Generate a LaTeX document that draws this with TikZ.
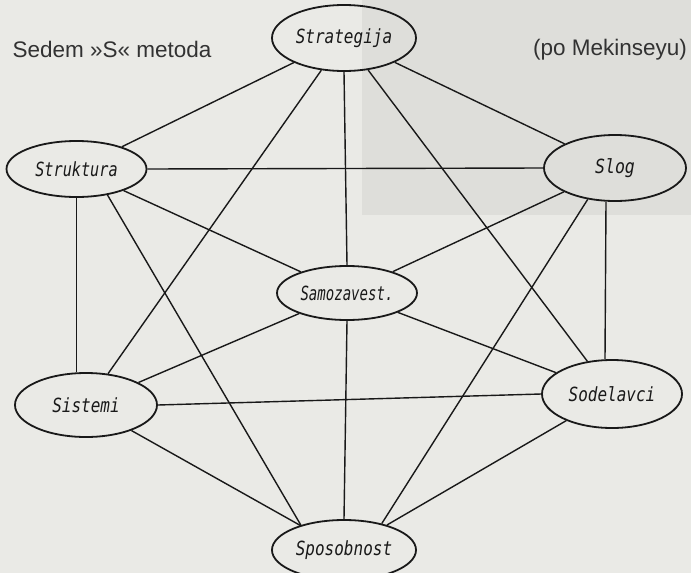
\documentclass[tikz,border=0pt]{standalone}
\usepackage{fontspec}
\setmainfont{Liberation Sans}
\newfontfamily\lblfont{DejaVu Sans Mono}
\usetikzlibrary{shapes.geometric}
\definecolor{bgcol}{RGB}{234,234,230}
\definecolor{panelcol}{RGB}{222,222,218}
\definecolor{ink}{RGB}{25,25,25}
\definecolor{titlecol}{RGB}{50,50,50}
\newcommand\sevlbl[2][0.82]{\makebox[0pt]{\scalebox{#1}[1]{#2}}}
\begin{document}
\begin{tikzpicture}[x=1pt,y=-1pt,
  sbox/.style={draw=ink, line width=1.8pt, ellipse, inner sep=0pt,
    font=\lblfont\itshape\fontsize{19.5}{21}\selectfont, text=ink},
  link/.style={draw=ink, line width=1.4pt},
  title/.style={font=\fontsize{22.5}{24}\selectfont, text=titlecol, inner sep=0pt}]
\useasboundingbox (0,0) rectangle (691,573);
\fill[bgcol] (0,0) rectangle (691,573);
\fill[panelcol] (362,0) rectangle (691,215);

\node[title] (head) at (112,49) {Sedem »S« metoda};
\node[title] (src) at (610,50) {(po Mekinseyu)};

\node[sbox, minimum width=144pt, minimum height=66pt] (strat) at (344,38) {\sevlbl{Strategija}};
\node[sbox, minimum width=140pt, minimum height=56pt] (struk) at (76.5,169) {\sevlbl[0.78]{Struktura}};
\node[sbox, minimum width=142pt, minimum height=66pt] (slog) at (615,168) {\sevlbl[0.85]{Slog}};
\node[sbox, minimum width=140pt, minimum height=54pt] (samo) at (347,293) {\sevlbl[0.72]{Samozavest.}};
\node[sbox, minimum width=142pt, minimum height=64pt] (sist) at (86,405) {\sevlbl{Sistemi}};
\node[sbox, minimum width=140pt, minimum height=68pt] (sodel) at (612,394) {\sevlbl{Sodelavci}};
\node[sbox, minimum width=144pt, minimum height=60pt] (spos) at (344,550) {\sevlbl{Sposobnost}};

\draw[link] (strat) -- (struk);
\draw[link] (strat) -- (sist);
\draw[link] (strat.south) -- (samo.north);
\draw[link] (strat) -- (sodel);
\draw[link] (strat) -- (slog);
\draw[link] (struk.east) -- (slog.west);
\draw[link] (struk.south) -- (struk.south |- sist.north);
\draw[link] (struk) -- (samo);
\draw[link] (struk.-40) -- (spos.150);
\draw[link] (slog) -- (samo);
\draw[link] (slog.229) -- (spos.35);
\draw[link] ([xshift=-9pt]slog.south) -- ([xshift=-7pt]sodel.north);
\draw[link] (samo) -- (sist);
\draw[link] (samo.south) -- (spos.north);
\draw[link] (samo) -- (sodel);
\draw[link] (sist.east) -- (sodel.west);
\draw[link] (sist) -- (spos);
\draw[link] (sodel) -- (spos);
\end{tikzpicture}
\end{document}
